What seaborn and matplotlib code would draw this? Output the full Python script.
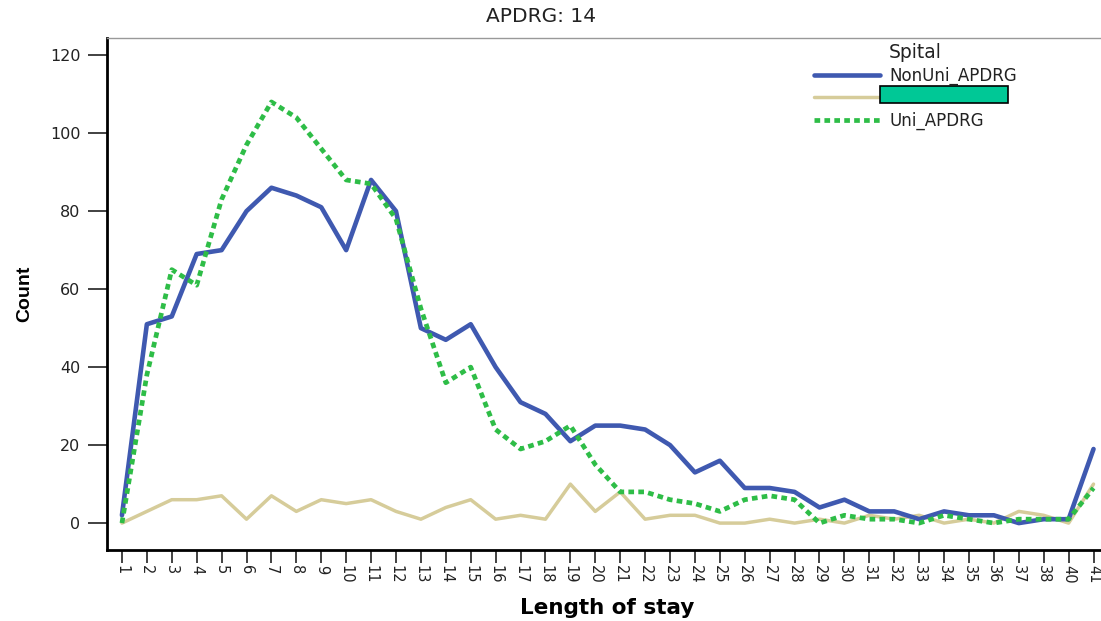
import numpy as np
import pandas as pd
import matplotlib
matplotlib.use("Agg")
import matplotlib.pyplot as plt
from matplotlib.patches import Rectangle
import seaborn as sns

# ---- data ----
los_labels = [str(i) for i in range(1, 39)] + ["40", "41"]
nonuni = [2, 51, 53, 69, 70, 80, 86, 84, 81, 70, 88, 80, 50, 47, 51, 40, 31, 28, 21, 25,
          25, 24, 20, 13, 16, 9, 9, 8, 4, 6, 3, 3, 1, 3, 2, 2, 0, 1, 1, 19]
other = [0, 3, 6, 6, 7, 1, 7, 3, 6, 5, 6, 3, 1, 4, 6, 1, 2, 1, 10, 3,
         8, 1, 2, 2, 0, 0, 1, 0, 1, 0, 2, 1, 2, 0, 1, 0, 3, 2, 0, 10]
uni = [0, 38, 65, 61, 83, 97, 108, 104, 96, 88, 87, 78, 55, 36, 40, 24, 19, 21, 25, 15,
       8, 8, 6, 5, 3, 6, 7, 6, 0, 2, 1, 1, 0, 2, 1, 0, 1, 1, 1, 9]
series_names = ["NonUni_APDRG", "Other", "Uni_APDRG"]
yticks = [0, 20, 40, 60, 80, 100, 120]

pos = np.arange(len(los_labels))
df = pd.DataFrame({
    "pos": np.concatenate([pos, pos, pos]),
    "Count": nonuni + other + uni,
    "Spital": [series_names[0]] * len(pos) + [series_names[1]] * len(pos) + [series_names[2]] * len(pos),
})

sns.set_theme(style="white")
plt.rcParams["font.family"] = ["DejaVu Sans"]
plt.rcParams["text.color"] = "#222222"

W, H = 1101, 621
fig = plt.figure(figsize=(W / 100, H / 100), dpi=100)
ax = fig.add_axes([107 / W, 1 - 550 / H, (1101 - 107) / W, (550 - 38) / H])

palette = {series_names[0]: "#3F59B0", series_names[1]: "#D6CC9A", series_names[2]: "#2EBD47"}
sns.lineplot(data=df, x="pos", y="Count", hue="Spital", hue_order=series_names,
             palette=palette, ax=ax, legend=False, estimator=None)
lines = ax.get_lines()
lines[0].set_linewidth(3.3)
lines[1].set_linewidth(2.5)
lines[2].set_linewidth(3.4)
lines[2].set_dashes((1.2, 0.9))
lines[2].set_zorder(3)
lines[0].set_zorder(2)
lines[1].set_zorder(1)

ax.set_xlim(-0.6, 39.3)
ax.set_ylim(-6.9, 124.4)
ax.set_xticks(pos)
ax.set_xticklabels(los_labels, rotation=-90, fontsize=10.5, color="#222222")
ax.set_yticks(yticks)
ax.set_yticklabels([str(v) for v in yticks], fontsize=11.5, color="#222222")
ax.tick_params(axis="y", left=True, direction="out", length=14, width=1.3, color="#333333", pad=5)
ax.tick_params(axis="x", bottom=True, direction="out", length=9, width=1.3, color="#333333", pad=2)

for s in ["left", "bottom"]:
    ax.spines[s].set_color("black")
    ax.spines[s].set_linewidth(2.0)
ax.spines["top"].set_color("#999999")
ax.spines["top"].set_linewidth(1.0)
ax.spines["right"].set_visible(False)

ax.set_xlabel("")
ax.set_ylabel("Count", fontsize=14, fontweight="bold",
              family=["Liberation Sans Narrow", "Liberation Sans", "DejaVu Sans"],
              labelpad=12, color="black")
fig.text(607 / W, 1 - 608 / H, "Length of stay", ha="center", va="center",
         fontsize=15.5, fontweight="bold", color="black")
fig.text(541 / W, 1 - 17 / H, "APDRG: 14", ha="center", va="center", fontsize=14.5)

# legend (built from the line handles)
leg = ax.legend(lines, series_names, title="Spital", loc="upper left",
                bbox_to_anchor=((802 - 107) / (1101 - 107), 1 + 7 / (550 - 38)),
                frameon=False, fontsize=12, title_fontsize=13.5, handlelength=4.0,
                handletextpad=0.55, labelspacing=0.28, borderaxespad=0.3)

# teal box covering the middle legend label
fig.patches.append(Rectangle((880 / W, 1 - 103 / H), 128 / W, 17 / H,
                             transform=fig.transFigure, facecolor="#00C896",
                             edgecolor="black", linewidth=1.2, zorder=10))

fig.savefig("out.png", dpi=100)
